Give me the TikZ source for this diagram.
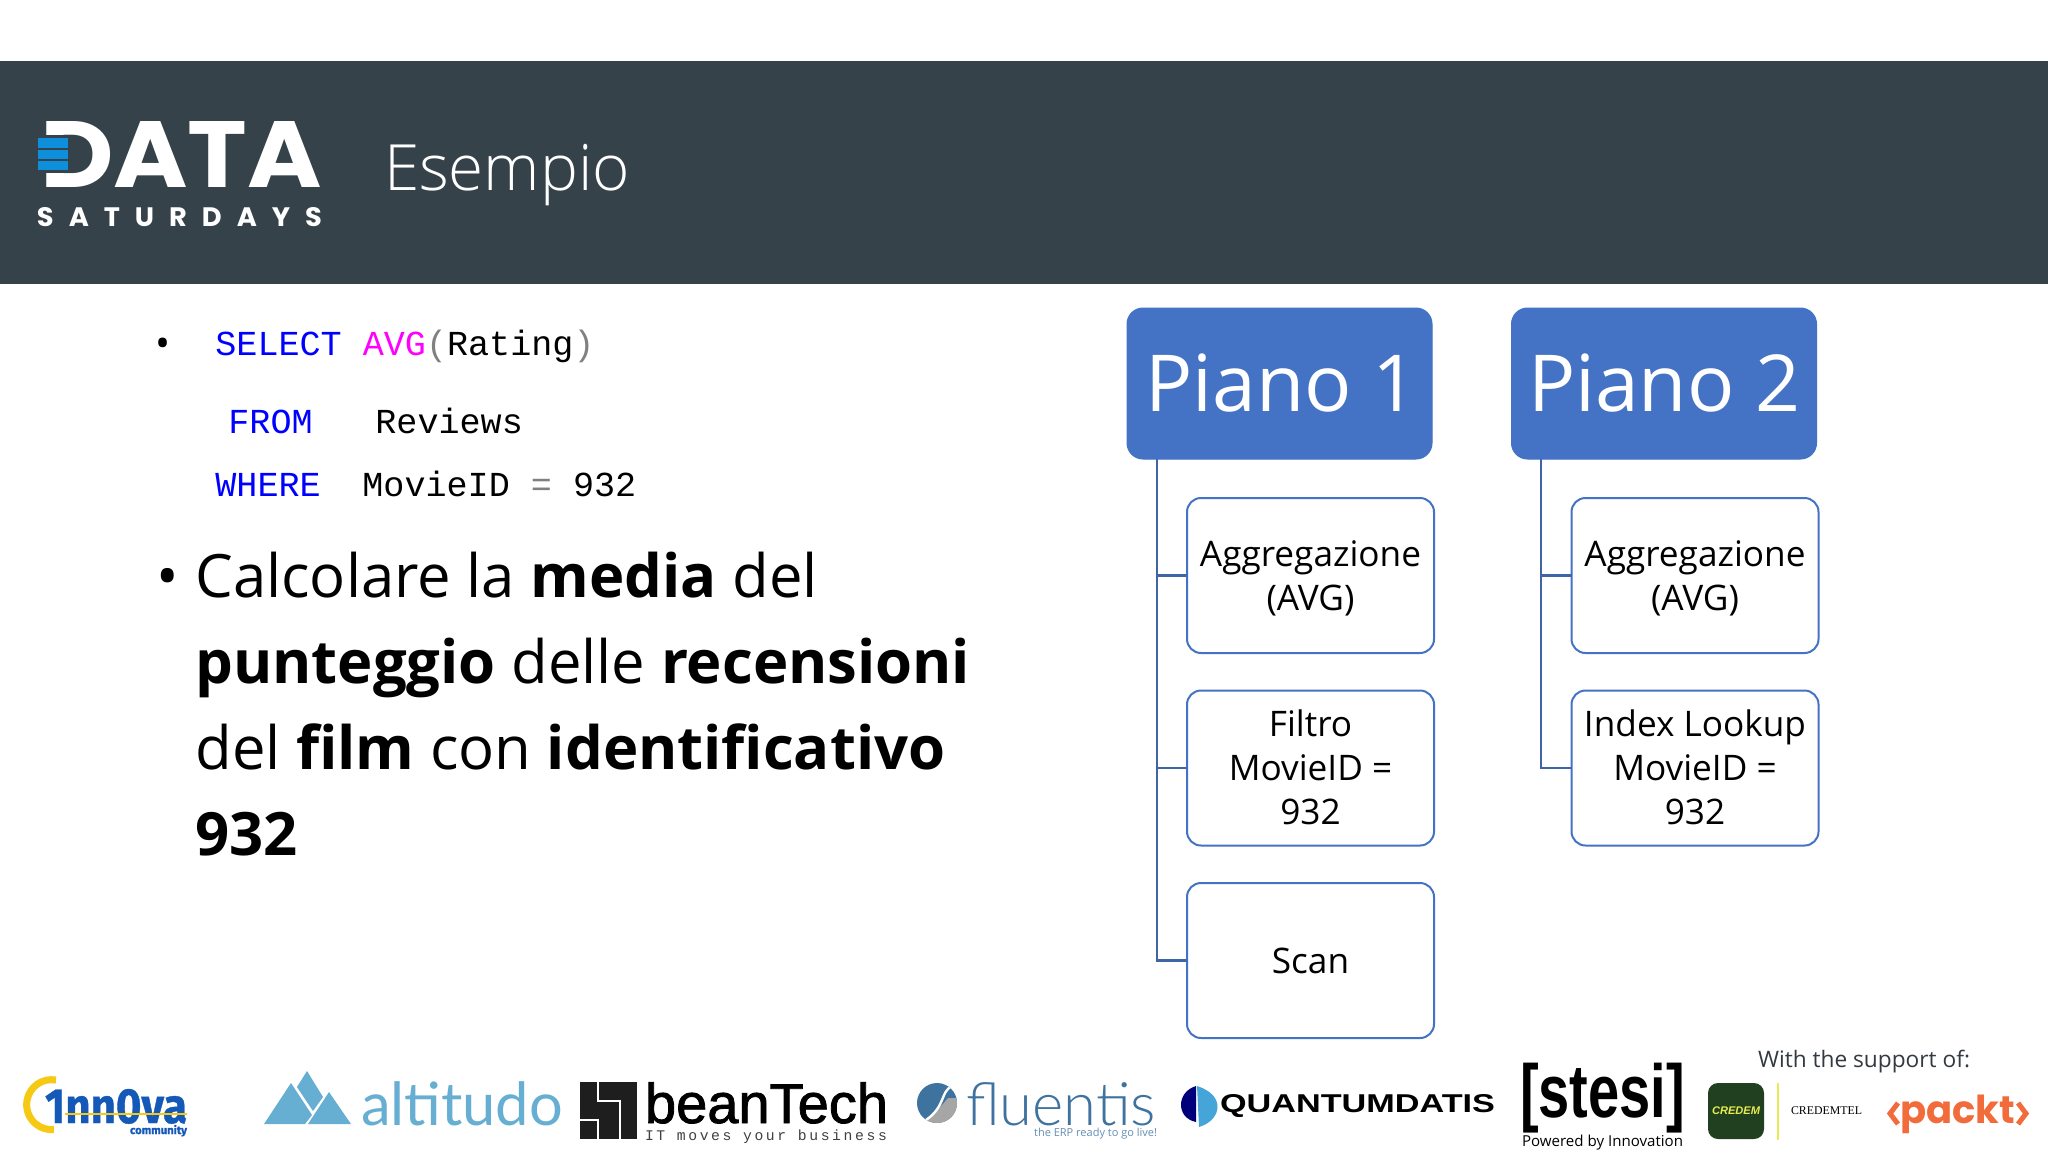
\documentclass[tikz,border=0pt]{standalone}
\usepackage{fontspec}
\setmainfont{Open Sans}
\newfontfamily\lightf{Open Sans Light}
\newfontfamily\codef{Liberation Mono}
\newfontfamily\codesp[LetterSpace=18]{Liberation Mono}
\newfontfamily\logof{Poppins}
\newfontfamily\logosp[LetterSpace=55]{Poppins}
\newfontfamily\latof{Lato}
\newfontfamily\latol{Lato Light}
\newfontfamily\helvf{Liberation Sans}
\newfontfamily\helvm[FakeBold=1.5]{Liberation Sans}
\newfontfamily\fraf[FakeBold=0.8]{Fira Sans}
\newfontfamily\serf{Liberation Serif}
\definecolor{hdr}{HTML}{36424A}
\definecolor{blu}{HTML}{4472C4}
\definecolor{linec}{HTML}{3F65A8}
\definecolor{logoblue}{HTML}{0E8FDC}
\definecolor{codeblue}{HTML}{0000FF}
\definecolor{codemag}{HTML}{FF00FF}
\definecolor{codegray}{HTML}{808080}
\definecolor{alti}{HTML}{66AFD2}
\definecolor{flu}{HTML}{3E729F}
\definecolor{inn}{HTML}{1458B8}
\definecolor{innyel}{HTML}{F6C915}
\definecolor{packtc}{HTML}{F26B3A}
\definecolor{credg}{HTML}{21401F}
\definecolor{credy}{HTML}{E8EC50}
\definecolor{qdark}{HTML}{00007A}
\definecolor{qlight}{HTML}{45A5D8}
\definecolor{beanb}{HTML}{1E1E1E}
\definecolor{suppc}{HTML}{333A40}
\newcommand\sz[2]{\fontsize{#1}{#2}\selectfont}
\newcommand\topfix{\rule{0pt}{16pt}}
\newcommand\botfix{\rule[-1.3pt]{0pt}{1pt}}
\tikzset{
  x=.5pt,y=-.5pt,
  planbox/.style={draw=blu,fill=blu,rounded corners=8pt,line width=.5pt,minimum width=152.5pt,minimum height=75.5pt,inner sep=0pt,outer sep=0pt,text=white,font=\sz{39.3}{44}},
  stepbox/.style={draw=blu,fill=white,rounded corners=7pt,line width=1pt,minimum width=123.5pt,minimum height=77.5pt,inner sep=0pt,outer sep=0pt,align=center,font=\sz{17.6}{22}},
  tree/.style={draw=linec,line width=1.2pt},
  code/.style={anchor=base west,inner sep=0pt,font=\codef\sz{17.55}{21}},
  big/.style={anchor=base west,inner sep=0pt,font=\sz{29.9}{36}},
  logo/.style={inner sep=0pt,outer sep=0pt},
}
\begin{document}
\begin{tikzpicture}
\useasboundingbox (0,0) rectangle (2048,1152);
\fill[white] (0,0) rectangle (2048,1152);
\fill[hdr] (0,61) rectangle (2048,284);
% logo
\node[logo,anchor=base west,text=white] (data) at (40,187) {\resizebox{141pt}{33pt}{\logof\bfseries DATA}};
\fill[hdr] (30,135) rectangle (69,173);
\fill[logoblue] (37.5,138) rectangle (68,147.5);
\fill[logoblue] (37.5,149.5) rectangle (68,159);
\fill[logoblue] (37.5,161) rectangle (68,170);
\node[logo,anchor=base west,text=white] (sat) at (37,226) {\resizebox{142.5pt}{9.5pt}{\logosp\bfseries SATURDAYS}};
\node[logo,anchor=base west,text=white] (title) at (384,190) {\lightf\sz{31.9}{36}Esempio};
% code
\node[inner sep=0pt,font=\sz{20}{24}] (b0) at (163,348) {•};
\node[code] (c1) at (215,355) {\textcolor{codeblue}{SELECT} \textcolor{codemag}{AVG}\textcolor{codegray}{(}Rating\textcolor{codegray}{)}};
\node[code,text=codeblue] (c2) at (228,433) {FROM};
\node[code] (c3) at (375,433) {Reviews};
\node[code,text=codeblue] (c4) at (215,496) {WHERE};
\node[code] (c5) at (362,496) {MovieID \textcolor{codegray}{=} 932};
% body
\node[big] (b1) at (156,597) {•};
\node[big] (l1) at (195,597) {Calcolare la \textbf{media} del};
\node[big] (l2) at (195,683) {\textbf{punteggio} delle \textbf{recensioni}};
\node[big] (l3) at (195,769) {del \textbf{film} con \textbf{identificativo}};
\node[big] (l4) at (195,855) {\textbf{932}};
% plan 1
\node[planbox] (p1) at (1279.5,383.5) {\hspace*{2pt}Piano 1};
\node[stepbox] (a1) at (1310.5,575.5) {\topfix Aggregazione\\(AVG)};
\node[stepbox] (f1) at (1310.5,768) {Filtro\\MovieID =\\932\botfix};
\node[stepbox] (s1) at (1310.5,960.5) {Scan};
\coordinate (t1) at (1157,459);
\draw[tree] (t1) |- (a1.west);
\draw[tree] (t1) |- (f1.west);
\draw[tree] (t1) |- (s1.west);
% plan 2
\node[planbox] (p2) at (1664,383.5) {Piano 2};
\node[stepbox] (a2) at (1695,575.5) {\topfix Aggregazione\\(AVG)};
\node[stepbox] (f2) at (1695,768) {Index Lookup\\MovieID =\\932\botfix};
\coordinate (t2) at (1541,459);
\draw[tree] (t2) |- (a2.west);
\draw[tree] (t2) |- (f2.west);
% 1nn0va
\draw[innyel,line width=3.5pt] (56,1080) arc[start angle=280,end angle=85,radius=25];
\node[logo,anchor=base west,text=inn] (inn) at (45,1123) {\resizebox{71pt}{17pt}{\fraf\bfseries 1nn0va}};
\draw[innyel,line width=.8pt] (65,1114) -- (187,1114);
\node[logo,anchor=base east,text=inn] (comm) at (187,1134) {\resizebox{28.5pt}{!}{\fraf\bfseries community}};
% altitudo
\fill[alti] (307,1071) -- (323,1097) -- (313,1111) -- (297,1087) -- cycle;
\fill[alti] (291,1083) -- (312,1115) -- (305,1124) -- (264,1124) -- cycle;
\fill[alti] (329,1092) -- (351,1124) -- (308,1124) -- cycle;
\node[logo,anchor=base west,text=alti] (alt) at (361,1125) {\resizebox{101pt}{!}{\latof altitudo}};
% beanTech
\fill[beanb] (580,1082) rectangle (637,1139);
\draw[white,line width=1.4pt] (598,1082) -- (598,1101) -- (620,1101) -- (620,1139);
\draw[white,line width=1.4pt] (580,1120) -- (598,1120) -- (598,1139);
\node[logo,anchor=base west] (bean) at (645,1123) {\resizebox{121.5pt}{!}{\helvm beanTech}};
\node[logo,anchor=base west,text=beanb!85] (beansub) at (645,1140) {\resizebox{121pt}{!}{\codesp IT moves your business}};
% fluentis
\begin{scope}
\clip (937,1103) circle[radius=20];
\fill[flu] (915,1080) rectangle (960,1125);
\fill[gray!70] (948,1098) -- (960,1098) -- (960,1126) -- (920,1126) -- (936,1112) -- cycle;
\draw[white,line width=1.2pt] (952,1086) .. controls (940,1092) and (946,1106) .. (926,1120);
\end{scope}
\node[logo,anchor=base west,text=flu] (flue) at (966,1125) {\resizebox{95pt}{!}{\latol fluentis}};
\node[logo,anchor=base east,text=flu!80] (flus) at (1157,1136) {\sz{5.5}{7}the ERP ready to go live!};
% quantumdatis
\fill[qdark] (1196,1086) .. controls (1176,1092) and (1176,1118) .. (1196,1122) -- cycle;
\fill[qlight] (1197,1086) .. controls (1226,1095) and (1222,1120) .. (1199,1127) -- cycle;
\node[logo,anchor=base west] (qd) at (1220,1112) {\resizebox{137.5pt}{9pt}{\helvf\bfseries QUANTUMDATIS}};
% stesi
\node[logo,anchor=base west] (st) at (1520,1117) {\resizebox{82.5pt}{27.2pt}{\helvf\bfseries [stesi]}};
\node[logo,anchor=base west] (stp) at (1522,1146) {\resizebox{80.5pt}{!}{Powered by Innovation}};
% support
\node[logo,anchor=base west,text=suppc] (ws) at (1758,1067) {\resizebox{106pt}{!}{With the support of:}};
\fill[credg,rounded corners=5pt] (1708,1083) rectangle (1764,1139);
\node[logo,text=credy] (cred) at (1736,1111) {\resizebox{24pt}{!}{\helvf\bfseries\itshape CREDEM}};
\draw[credy,line width=.7pt] (1778,1083) -- (1778,1140);
\node[logo] (credt) at (1826.5,1111) {\resizebox{35.5pt}{!}{\serf CREDEMTEL}};
\node[logo,anchor=base west,text=packtc] (pk) at (1900,1123) {\resizebox{57.5pt}{!}{\logof\bfseries packt}};
\draw[packtc,line width=2.5pt] (1898,1103) -- (1890,1113.5) -- (1898,1124);
\draw[packtc,line width=2.5pt] (2018,1103) -- (2026,1113.5) -- (2018,1124);
\end{tikzpicture}
\end{document}
